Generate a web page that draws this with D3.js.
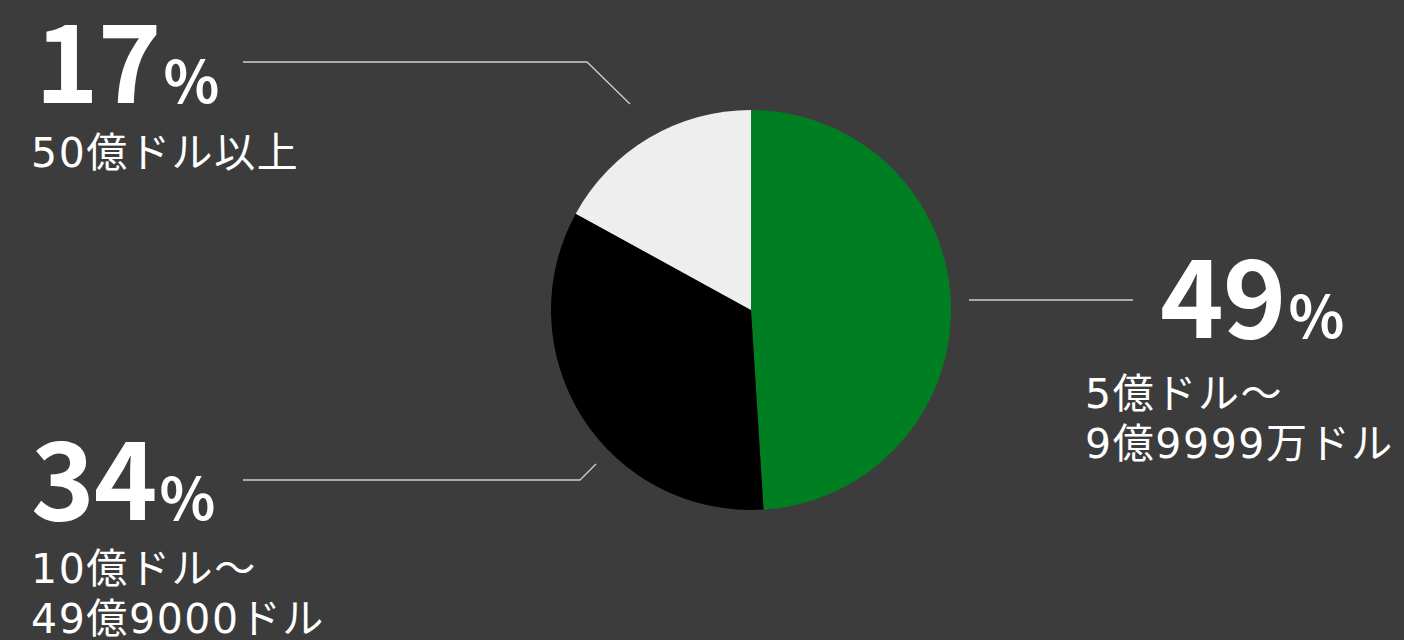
<!DOCTYPE html>
<html>
<head>
<meta charset="utf-8">
<script src="https://cdn.jsdelivr.net/npm/d3@7"></script>
<style>
  html, body { margin: 0; padding: 0; background: #3c3c3c; }
  svg { display: block; }
  .pct { font-family: "Noto Sans CJK JP", "Noto Sans", sans-serif; font-weight: 700; fill: #fff; }
  .lbl { font-family: "DejaVu Sans", "Noto Sans CJK JP", sans-serif; font-weight: 400; fill: #fff; }
</style>
</head>
<body>
<div id="chart"></div>
<script>
// data
var categories = ["5億ドル〜9億9999万ドル", "10億ドル〜49億9000ドル", "50億ドル以上"];
var values = [49, 34, 17];
var labelLines = [["5億ドル〜", "9億9999万ドル"], ["10億ドル〜", "49億9000ドル"], ["50億ドル以上"]];
var colors = ["#007f22", "#000000", "#eeeeee"];

var width = 1404, height = 640;
var cx = 751, cy = 310, radius = 200;

var svg = d3.select("#chart").append("svg")
  .attr("width", width)
  .attr("height", height);

svg.append("rect").attr("width", width).attr("height", height).attr("fill", "#3c3c3c");

// pie
var pie = d3.pie().sort(null).value(function(d){ return d; });
var arc = d3.arc().innerRadius(0).outerRadius(radius);
var color = d3.scaleOrdinal().domain(categories).range(colors);

var g = svg.append("g").attr("transform", "translate(" + cx + "," + cy + ")");
g.selectAll("path")
  .data(pie(values))
  .enter().append("path")
  .attr("d", arc)
  .attr("fill", function(d, i){ return color(categories[i]); });

// label placement (layout only)
var labelPos = [
  {x: 1160, y: 338, lx: 1085, ly: 408, line: [[969,300],[1133,300]]},
  {x: 31, y: 520, lx: 31, ly: 583, line: [[243,480],[580,480],[596,464]]},
  {x: 35, y: 103, lx: 31, ly: 167, line: [[243,62],[587,62],[630,104]]}
];

var lineGen = d3.line();

values.forEach(function(v, i){
  var p = labelPos[i];
  svg.append("path")
    .attr("d", lineGen(p.line))
    .attr("fill", "none")
    .attr("stroke", "#cfcfcf")
    .attr("stroke-width", 1.3);

  var t = svg.append("text")
    .attr("class", "pct")
    .attr("x", p.x)
    .attr("y", p.y);
  t.append("tspan").attr("font-size", 108).attr("letter-spacing", -1).text(v);
  t.append("tspan").attr("font-size", 58).attr("dx", 3).text("%");

  var lt = svg.append("text")
    .attr("class", "lbl")
    .attr("x", p.lx)
    .attr("y", p.ly)
    .attr("font-size", 41)
    .attr("letter-spacing", 1.6);
  labelLines[i].forEach(function(s, j){
    lt.append("tspan")
      .attr("x", p.lx)
      .attr("dy", j === 0 ? 0 : 50)
      .text(s);
  });
});
</script>
</body>
</html>
